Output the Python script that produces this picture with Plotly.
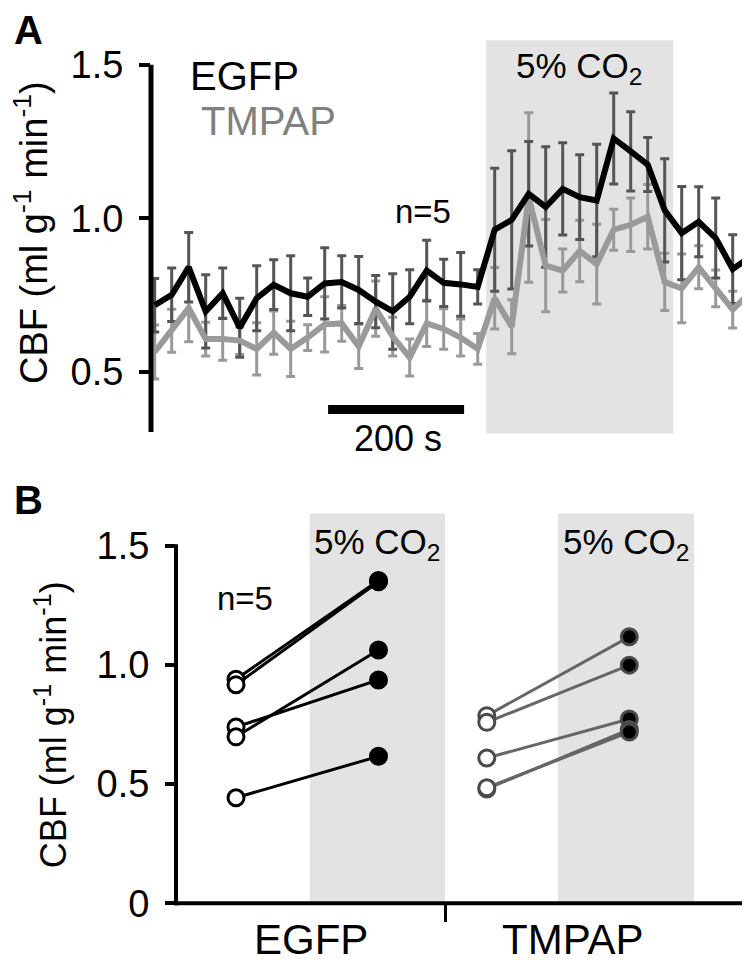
import plotly.graph_objects as go

W, H = 750, 970
FONT = "Liberation Sans, Arial, Helvetica, sans-serif"


def fx(p):
    return p / W


def fy(p):
    return 1 - p / H


# ---------------- Panel A data ----------------
time_s = [0, 25, 50, 75, 100, 125, 150, 175, 200, 225, 250, 275,
          300, 325, 350, 375, 400, 425, 450, 475, 500, 525, 550, 575,
          600, 625, 650, 675, 700, 725, 750, 775, 800, 825, 850, 875]
egfp_mean = [0.717, 0.751, 0.841, 0.697, 0.756, 0.644, 0.740, 0.784, 0.756, 0.745, 0.788, 0.793,
             0.767, 0.729, 0.697, 0.745, 0.830, 0.790, 0.785, 0.777, 0.963, 0.995, 1.080, 1.037,
             1.096, 1.069, 1.058, 1.260, 1.218, 1.175, 1.026, 0.952, 0.989, 0.936, 0.835, 0.873]
egfp_sem = [0.087, 0.087, 0.113, 0.119, 0.082, 0.096, 0.106, 0.081, 0.122, 0.061, 0.116, 0.085,
            0.109, 0.085, 0.123, 0.088, 0.099, 0.077, 0.104, 0.056, 0.200, 0.225, 0.170, 0.196,
            0.150, 0.138, 0.183, 0.148, 0.129, 0.088, 0.168, 0.152, 0.114, 0.130, 0.112, 0.116]
tmpap_mean = [0.565, 0.634, 0.708, 0.607, 0.607, 0.602, 0.575, 0.628, 0.575, 0.612, 0.655, 0.658,
              0.583, 0.706, 0.615, 0.547, 0.658, 0.640, 0.612, 0.575, 0.740, 0.647, 1.068, 0.846,
              0.830, 0.894, 0.851, 0.963, 0.979, 1.005, 0.793, 0.772, 0.841, 0.772, 0.703, 0.756]
tmpap_sem = [0.088, 0.070, 0.110, 0.055, 0.069, 0.045, 0.085, 0.070, 0.090, 0.042, 0.090, 0.058,
             0.072, 0.090, 0.063, 0.060, 0.075, 0.066, 0.060, 0.050, 0.100, 0.088, 0.276, 0.150,
             0.070, 0.100, 0.130, 0.067, 0.087, 0.105, 0.093, 0.112, 0.070, 0.060, 0.060, 0.063]
co2_window_s = [487.5, 762.5]
scale_bar_s = [255, 455]
scale_bar_label = "200 s"

# ---------------- Panel B data ----------------
groups = ["EGFP", "TMPAP"]
group_x_base = [0.0, 1.76]
group_x_co2 = [1.0, 2.76]
egfp_base = [0.941, 0.918, 0.740, 0.699, 0.443]
egfp_co2 = [1.356, 1.350, 0.938, 1.064, 0.617]
tmpap_base = [0.788, 0.760, 0.610, 0.480, 0.485]
tmpap_co2 = [1.119, 1.000, 0.774, 0.730, 0.719]
b_yticks = [0, 0.5, 1.0, 1.5]
b_yticktext = ["0", "0.5", "1.0", "1.5"]
a_yticks = [0.5, 1.0, 1.5]
a_yticktext = ["0.5", "1.0", "1.5"]

EGFP_ERR = "#555555"
TMPAP_LINE = "#9a9a9a"
TMPAP_ERR = "#999999"
SHADE = "#e3e3e3"

fig = go.Figure()

# Panel A error bars
fig.add_trace(go.Scatter(x=time_s, y=tmpap_mean, mode="markers",
                         marker=dict(size=1, opacity=0),
                         error_y=dict(type="data", array=tmpap_sem, color=TMPAP_ERR,
                                      thickness=3, width=4.5),
                         xaxis="x", yaxis="y", showlegend=False, hoverinfo="skip"))
fig.add_trace(go.Scatter(x=time_s, y=egfp_mean, mode="markers",
                         marker=dict(size=1, opacity=0),
                         error_y=dict(type="data", array=egfp_sem, color=EGFP_ERR,
                                      thickness=3, width=4.5),
                         xaxis="x", yaxis="y", showlegend=False, hoverinfo="skip"))
fig.add_trace(go.Scatter(x=time_s, y=tmpap_mean, mode="lines",
                         line=dict(color=TMPAP_LINE, width=6),
                         xaxis="x", yaxis="y", showlegend=False))
fig.add_trace(go.Scatter(x=time_s, y=egfp_mean, mode="lines",
                         line=dict(color="black", width=6),
                         xaxis="x", yaxis="y", showlegend=False))

# Panel B paired points
for b, c in zip(egfp_base, egfp_co2):
    fig.add_trace(go.Scatter(x=[group_x_base[0], group_x_co2[0]], y=[b, c],
                             mode="lines+markers",
                             line=dict(color="black", width=3),
                             marker=dict(size=16, color=["white", "black"],
                                         line=dict(color="black", width=3)),
                             xaxis="x2", yaxis="y2", showlegend=False, cliponaxis=False))
for b, c in zip(tmpap_base, tmpap_co2):
    fig.add_trace(go.Scatter(x=[group_x_base[1], group_x_co2[1]], y=[b, c],
                             mode="lines+markers",
                             line=dict(color="#666666", width=3),
                             marker=dict(size=16, color=["white", "black"],
                                         line=dict(color="#4a4a4a", width=3)),
                             xaxis="x2", yaxis="y2", showlegend=False, cliponaxis=False))

# Axis mappings
# Panel A: px_x = 146.7 + 0.68 * t ; px_y = 215 - (v - 1) * 314
a_dom_x = [143, 750]
a_dom_y = [435, 30]
a_xr = [(a_dom_x[0] - 146.7) / 0.68, (a_dom_x[1] - 146.7) / 0.68]
a_yr = [1 - (a_dom_y[0] - 215) / 314, 1 + (215 - a_dom_y[1]) / 314]
# Panel B: px_x = 228 + 142.5 * u ; px_y = 915 - 243.3 * v
b_dom_x = [168, 750]
b_dom_y = [915, 512]
b_xr = [(b_dom_x[0] - 228) / 142.5, (b_dom_x[1] - 228) / 142.5]
b_yr = [0, (915 - b_dom_y[1]) / 243.3]
divider_u = (437 - 228) / 142.5

tickfont = dict(family=FONT, size=38, color="black")
axcommon = dict(showgrid=False, zeroline=False, showline=False)

fig.update_layout(
    width=W, height=H, margin=dict(l=0, r=0, t=0, b=0),
    paper_bgcolor="white", plot_bgcolor="rgba(0,0,0,0)",
    font=dict(family=FONT, color="black"),
    xaxis=dict(domain=[fx(a_dom_x[0]), fx(a_dom_x[1])], range=a_xr,
               showticklabels=False, ticks="", anchor="y", **axcommon),
    yaxis=dict(domain=[fy(a_dom_y[0]), fy(a_dom_y[1])], range=a_yr, anchor="x",
               tickvals=a_yticks, ticktext=a_yticktext, ticks="outside",
               ticklen=11, tickwidth=4, tickcolor="black", tickfont=tickfont,
               ticklabelstandoff=8, **axcommon),
    xaxis2=dict(domain=[fx(b_dom_x[0]), fx(b_dom_x[1])], range=b_xr, anchor="y2",
                tickvals=[divider_u], ticktext=[""], ticks="outside", ticklen=18,
                tickwidth=3, tickcolor="black", **axcommon),
    yaxis2=dict(domain=[fy(b_dom_y[0]), fy(b_dom_y[1])], range=b_yr, anchor="x2",
                tickvals=b_yticks, ticktext=b_yticktext, ticks="outside",
                ticklen=10, tickwidth=4, tickcolor="black", tickfont=tickfont,
                ticklabelstandoff=8, **axcommon),
)

shapes = [
    # Panel A CO2 window
    dict(type="rect", xref="x", yref="paper", x0=co2_window_s[0], x1=co2_window_s[1],
         y0=fy(435), y1=fy(33), fillcolor=SHADE, line=dict(width=0), layer="below"),
    # Panel A y axis line
    dict(type="line", xref="paper", yref="y", x0=fx(143), x1=fx(143), y0=a_yr[0] + 0.005, y1=1.5,
         line=dict(color="black", width=5)),
    # scale bar
    dict(type="line", xref="x", yref="y", x0=scale_bar_s[0], x1=scale_bar_s[1],
         y0=1 - (410.5 - 215) / 314, y1=1 - (410.5 - 215) / 314, line=dict(color="black", width=9)),
    # Panel B CO2 windows
    dict(type="rect", xref="x2", yref="paper", x0=(301.7 - 228) / 142.5, x1=divider_u,
         y0=fy(913), y1=fy(516.7), fillcolor=SHADE, line=dict(width=0), layer="below"),
    dict(type="rect", xref="x2", yref="paper", x0=(550 - 228) / 142.5, x1=(686 - 228) / 142.5,
         y0=fy(913), y1=fy(516.7), fillcolor=SHADE, line=dict(width=0), layer="below"),
    # Panel B axes
    dict(type="line", xref="paper", yref="paper", x0=fx(168), x1=fx(168), y0=fy(917), y1=fy(548),
         line=dict(color="black", width=4)),
    dict(type="line", xref="paper", yref="paper", x0=fx(166), x1=fx(745), y0=fy(915), y1=fy(915),
         line=dict(color="black", width=4)),
]
fig.update_layout(shapes=shapes)


def ann(text, x, y, size, xanchor="center", yanchor="middle", color="black", bold=False, angle=0):
    t = f"<b>{text}</b>" if bold else text
    return dict(text=t, x=fx(x), y=fy(y), xref="paper", yref="paper", showarrow=False,
                xanchor=xanchor, yanchor=yanchor, textangle=angle,
                font=dict(family=FONT, size=size, color=color))


annotations = [
    ann("A", 4, 22, 40, xanchor="left", bold=True),
    ann("EGFP", 180, 70, 40, xanchor="left"),
    ann("TMPAP", 191, 115, 40, xanchor="left", color="#808080"),
    ann("5% CO<sub>2</sub>", 571, 61, 35),
    ann("n=5", 415, 208, 33),
    ann(scale_bar_label, 390, 440, 36),
    ann("CBF (ml g<sup>-1</sup> min<sup>-1</sup>)", 23, 230, 38, angle=-90),
    ann("B", 4, 503, 40, xanchor="left", bold=True),
    ann("n=5", 237, 604, 33),
    ann("5% CO<sub>2</sub>", 368.5, 548, 35),
    ann("5% CO<sub>2</sub>", 617.5, 548, 35),
    ann("CBF (ml g<sup>-1</sup> min<sup>-1</sup>)", 43, 733, 36, angle=-90),
    ann(groups[0], 303, 952, 42),
    ann(groups[1], 565, 952, 42),
]
fig.update_layout(annotations=annotations)

fig.write_html("out.html")
